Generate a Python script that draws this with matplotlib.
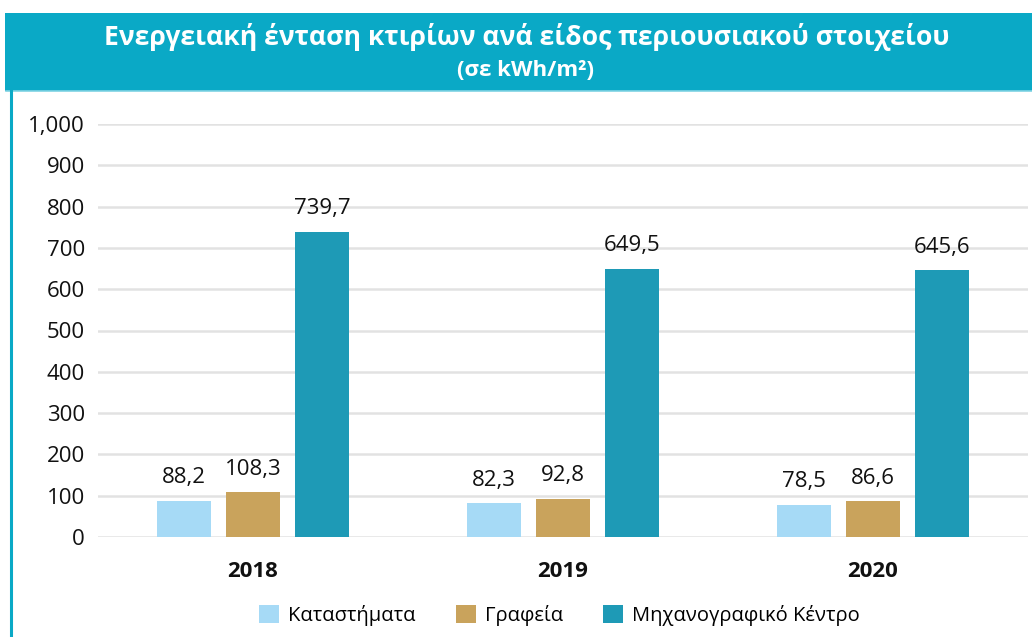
import matplotlib
matplotlib.use("Agg")
import matplotlib.pyplot as plt
import numpy as np
from matplotlib.patches import Rectangle
from matplotlib.lines import Line2D

plt.rcParams["font.family"] = ["Open Sans", "DejaVu Sans"]

years = ["2018", "2019", "2020"]
series_names = ["Καταστήματα", "Γραφεία", "Μηχανογραφικό Κέντρο"]
stores = [88.2, 82.3, 78.5]
offices = [108.3, 92.8, 86.6]
data_center = [739.7, 649.5, 645.6]
colors = ["#a6daf6", "#c9a35c", "#1e9ab6"]
yticks = [0, 100, 200, 300, 400, 500, 600, 700, 800, 900, 1000]

W, H = 1032, 637
fig = plt.figure(figsize=(W / 100, H / 100), dpi=100)

# header banner and left rule
fig.patches.append(Rectangle((5 / W, 1 - 91 / H), 1, 78 / H, transform=fig.transFigure,
                             facecolor="#0aa9c6", edgecolor="none", zorder=0))
fig.lines.append(Line2D([6 / W, 1], [1 - 91 / H, 1 - 91 / H], transform=fig.transFigure,
                        color="#7fd3e3", linewidth=1.2))
fig.lines.append(Line2D([10.5 / W, 10.5 / W], [0, 1 - 91 / H], transform=fig.transFigure,
                        color="#0aa9c6", linewidth=2.2))
fig.text(0.51, 1 - 37 / H, "Ενεργειακή ένταση κτιρίων ανά είδος περιουσιακού στοιχείου",
         ha="center", va="center", color="white", fontsize=19.1, fontweight="bold")
fig.text(0.509, 1 - 71 / H, "(σε kWh/m²)", ha="center", va="center",
         color="white", fontsize=16, fontweight="bold")

ax = fig.add_axes([98 / W, 100 / H, 930 / W, 413 / H])
x = np.arange(len(years))
width = 0.174
step = 0.2226
for i, (vals, c, name) in enumerate(zip([stores, offices, data_center], colors, series_names)):
    bars = ax.bar(x + (i - 1) * step, vals, width, color=c, label=name, zorder=3)
    for b, v in zip(bars, vals):
        ax.annotate(f"{v:.1f}".replace(".", ","), (b.get_x() + b.get_width() / 2, v),
                    xytext=(0, 9), textcoords="offset points", ha="center", va="bottom",
                    fontsize=16, color="#111111")

ax.set_xlim(-0.5, 2.5)
ax.set_ylim(0, 1000)
ax.set_yticks(yticks)
ax.set_yticklabels([f"{t:,}" for t in yticks], fontsize=16, color="#111111")
ax.set_xticks(x)
ax.set_xticklabels(years, fontsize=16, fontweight="bold", color="#111111")
ax.tick_params(axis="both", length=0)
ax.tick_params(axis="x", pad=17)
ax.tick_params(axis="y", pad=9.5)
ax.grid(axis="y", color="#e2e2e2", linewidth=1.8, zorder=0)
ax.set_axisbelow(True)
for s in ax.spines.values():
    s.set_visible(False)

fig.legend(loc="center", bbox_to_anchor=(0.542, 22 / H), ncol=3, frameon=False,
           fontsize=14.5, handlelength=1.0, handleheight=1.0, columnspacing=2.0,
           handletextpad=0.45)

fig.savefig("out.png", dpi=100)
